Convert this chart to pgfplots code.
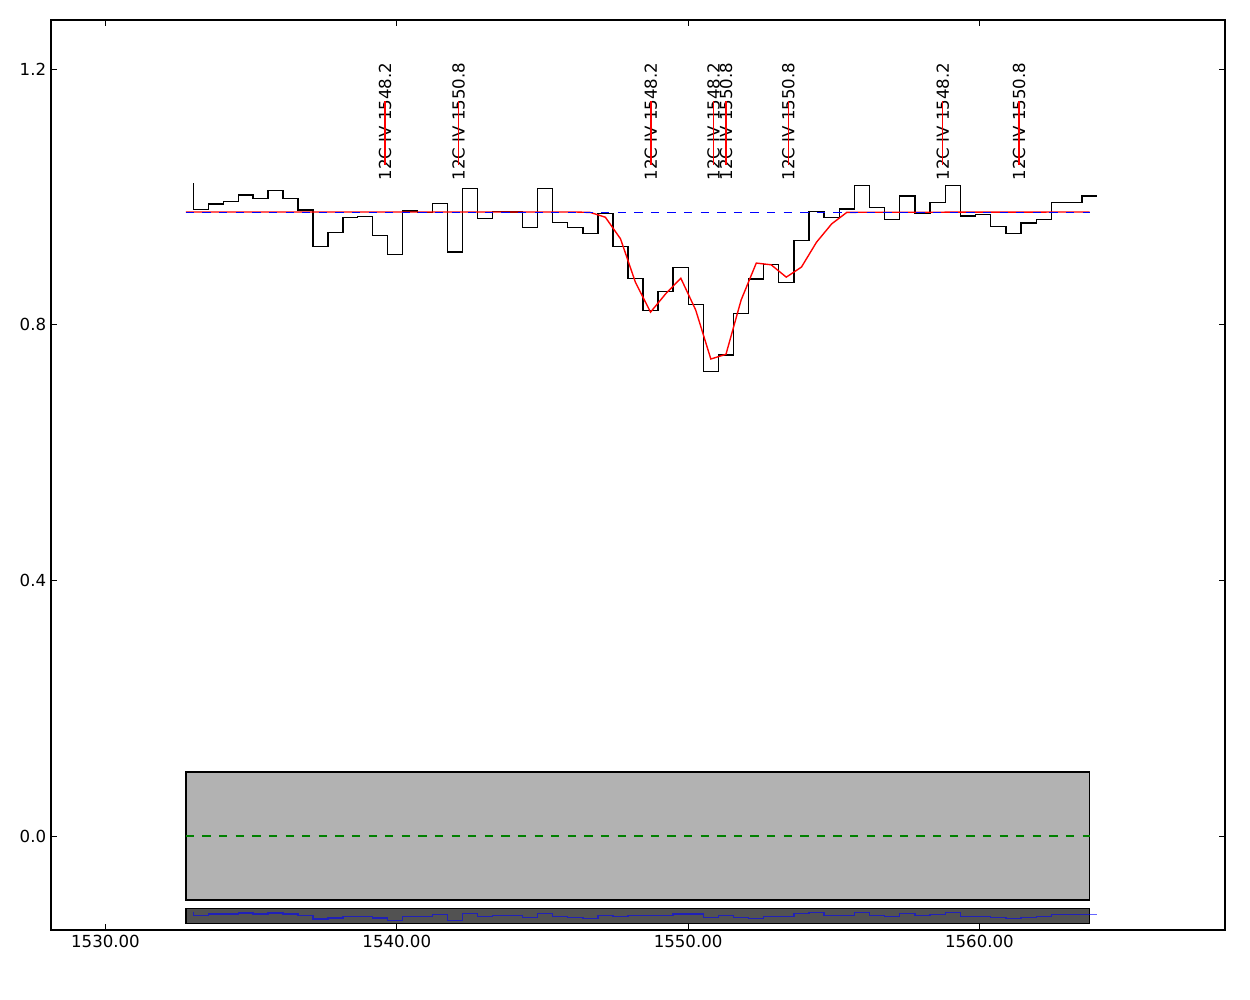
\documentclass[border=0pt]{standalone}
\usepackage{pgfplots}
\pgfplotsset{compat=1.18}
\usepackage{fontspec}
\setmainfont{DejaVu Sans}
\newcommand{\lf}{\fontsize{12}{14}\selectfont}
\definecolor{mplgreen}{rgb}{0,0.5,0}
\definecolor{lgray}{rgb}{0.7,0.7,0.7}
\definecolor{dgray}{rgb}{0.32,0.32,0.32}
\tikzset{lbl/.style={rotate=90, anchor=west, inner sep=0pt, font=\lf, xshift=-1.8pt}}
\begin{document}
\begin{tikzpicture}
\path[use as bounding box] (-0.51in,-0.70in) rectangle (11.99in,9.30in);
\begin{axis}[
  at={(0,0)}, anchor=south west,
  scale only axis, width=11.74in, height=9.10in,
  xmin=1528.13, xmax=1568.43, ymin=-0.1471, ymax=1.2766,
  xtick={1530,1540,1550,1560}, ytick={0,0.4,0.8,1.2},
  tick align=inside, major tick length=4pt,
  every tick/.style={black, line width=0.6pt},
  axis line style={line width=1pt},
  /pgf/number format/assume math mode=true,
  /pgf/number format/1000 sep={},
  xticklabel style={/pgf/number format/fixed, /pgf/number format/fixed zerofill, /pgf/number format/precision=2, font=\lf},
  yticklabel style={/pgf/number format/fixed, /pgf/number format/fixed zerofill, /pgf/number format/precision=1, font=\lf},
  scaled ticks=false,
  clip=false,
]
% bottom panels
\addplot[fill=lgray, draw=black, line width=1pt] coordinates {(1532.76,-0.1) (1563.78,-0.1) (1563.78,0.1) (1532.76,0.1)} -- cycle;
\addplot[mplgreen, line width=1pt, dash pattern=on 6pt off 6pt] coordinates {(1532.76,0) (1563.78,0)};
\addplot[fill=dgray, draw=black, line width=1pt] coordinates {(1532.76,-0.1366) (1563.78,-0.1366) (1563.78,-0.1131) (1532.76,-0.1131)} -- cycle;
% residuals
\addplot[blue, opacity=0.6, line width=1pt, const plot mark right] coordinates {
(1533.020,-0.1189) (1533.532,-0.1241) (1534.044,-0.1220) (1534.556,-0.1220) (1535.069,-0.1205)
(1535.581,-0.1220) (1536.094,-0.1205) (1536.607,-0.1220) (1537.120,-0.1247) (1537.634,-0.1299)
(1538.147,-0.1283) (1538.661,-0.1256) (1539.175,-0.1256) (1539.689,-0.1283) (1540.203,-0.1325)
(1540.717,-0.1256) (1541.232,-0.1256) (1541.746,-0.1225) (1542.261,-0.1319) (1542.776,-0.1209)
(1543.291,-0.1256) (1543.807,-0.1241) (1544.322,-0.1241) (1544.838,-0.1272) (1545.354,-0.1209)
(1545.870,-0.1256) (1546.386,-0.1272) (1546.903,-0.1288) (1547.419,-0.1241) (1547.936,-0.1256)
(1548.453,-0.1241) (1548.970,-0.1241) (1549.487,-0.1241) (1550.004,-0.1220) (1550.522,-0.1220)
(1551.040,-0.1272) (1551.558,-0.1241) (1552.076,-0.1272) (1552.594,-0.1288) (1553.113,-0.1256)
(1553.631,-0.1256) (1554.150,-0.1209) (1554.669,-0.1194) (1555.188,-0.1241) (1555.707,-0.1241)
(1556.227,-0.1194) (1556.746,-0.1241) (1557.266,-0.1256) (1557.786,-0.1209) (1558.306,-0.1241)
(1558.827,-0.1225) (1559.347,-0.1194) (1559.868,-0.1256) (1560.389,-0.1256) (1560.910,-0.1272)
(1561.431,-0.1288) (1561.952,-0.1272) (1562.474,-0.1256) (1562.995,-0.1225) (1563.517,-0.1225)
(1564.039,-0.1225)};
% spectrum
\addplot[black, line width=1pt, const plot mark right] coordinates {
(1533.020,1.0210) (1533.532,0.9805) (1534.044,0.9887) (1534.556,0.9924) (1535.069,1.0028)
(1535.581,0.9976) (1536.094,1.0101) (1536.607,0.9976) (1537.120,0.9794) (1537.634,0.9225)
(1538.147,0.9444) (1538.661,0.9680) (1539.175,0.9690) (1539.689,0.9392) (1540.203,0.9100)
(1540.717,0.9778) (1541.232,0.9757) (1541.746,0.9898) (1542.261,0.9137) (1542.776,1.0127)
(1543.291,0.9664) (1543.807,0.9770) (1544.322,0.9760) (1544.838,0.9520) (1545.354,1.0133)
(1545.870,0.9600) (1546.386,0.9520) (1546.903,0.9430) (1547.419,0.9740) (1547.936,0.9225)
(1548.453,0.8725) (1548.970,0.8224) (1549.487,0.8520) (1550.004,0.8897) (1550.522,0.8318)
(1551.040,0.7270) (1551.558,0.7525) (1552.076,0.8177) (1552.594,0.8714) (1553.113,0.8944)
(1553.631,0.8662) (1554.150,0.9320) (1554.669,0.9773) (1555.188,0.9674) (1555.707,0.9810)
(1556.227,1.0174) (1556.746,0.9830) (1557.266,0.9648) (1557.786,1.0013) (1558.306,0.9740)
(1558.827,0.9914) (1559.347,1.0174) (1559.868,0.9700) (1560.389,0.9726) (1560.910,0.9533)
(1561.431,0.9423) (1561.952,0.9590) (1562.474,0.9648) (1562.995,0.9914) (1563.517,0.9914)
(1564.039,1.0013)};
% model
\addplot[red, line width=1pt] coordinates {
(1532.76,0.9762) (1546.13,0.9762) (1546.645,0.9755) (1547.16,0.9680) (1547.68,0.9342)
(1548.19,0.8664) (1548.71,0.8195) (1549.23,0.8482) (1549.75,0.8726) (1550.26,0.8229)
(1550.78,0.7462) (1551.30,0.7536) (1551.82,0.8385) (1552.34,0.8963) (1552.85,0.8936)
(1553.37,0.8743) (1553.89,0.8900) (1554.41,0.9291) (1554.93,0.9577) (1555.45,0.9757)
(1563.78,0.9762)};
% continuum
\addplot[blue, line width=1pt, dash pattern=on 6pt off 6pt] coordinates {(1532.76,0.9757) (1563.78,0.9757)};
% line labels
\node[lbl] at (axis cs:1539.60,1.029) {12C IV 1548.2};
\node[lbl] at (axis cs:1542.12,1.029) {12C IV 1550.8};
\node[lbl] at (axis cs:1548.72,1.029) {12C IV 1548.2};
\node[lbl] at (axis cs:1550.87,1.029) {12C IV 1548.2};
\node[lbl] at (axis cs:1551.30,1.029) {12C IV 1550.8};
\node[lbl] at (axis cs:1553.44,1.029) {12C IV 1550.8};
\node[lbl] at (axis cs:1558.74,1.029) {12C IV 1548.2};
\node[lbl] at (axis cs:1561.36,1.029) {12C IV 1550.8};
\addplot[red, line width=1pt] coordinates {(1539.60,1.05) (1539.60,1.15)};
\addplot[red, line width=1pt] coordinates {(1542.12,1.05) (1542.12,1.15)};
\addplot[red, line width=1pt] coordinates {(1548.72,1.05) (1548.72,1.15)};
\addplot[red, line width=1pt] coordinates {(1550.87,1.05) (1550.87,1.15)};
\addplot[red, line width=1pt] coordinates {(1551.30,1.05) (1551.30,1.15)};
\addplot[red, line width=1pt] coordinates {(1553.44,1.05) (1553.44,1.15)};
\addplot[red, line width=1pt] coordinates {(1558.74,1.05) (1558.74,1.15)};
\addplot[red, line width=1pt] coordinates {(1561.36,1.05) (1561.36,1.15)};
\end{axis}
\end{tikzpicture}
\end{document}
